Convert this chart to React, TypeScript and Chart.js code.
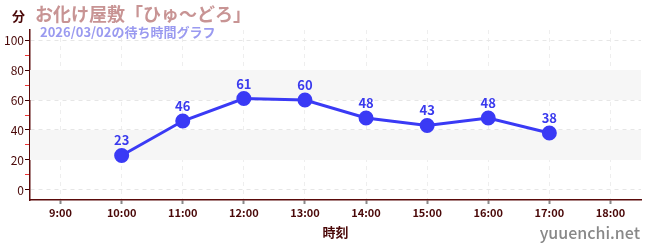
import React, { useEffect, useRef } from "react";
import { Chart, registerables } from "chart.js";

Chart.register(...registerables);

const hours = [10, 11, 12, 13, 14, 15, 16, 17];
const waits = [23, 46, 61, 60, 48, 43, 48, 38];
const xTickHours = [9, 10, 11, 12, 13, 14, 15, 16, 17, 18];
const yTicks = [0, 10, 20, 30, 40, 50, 60, 70, 80, 90, 100];
const bands = [
  [20, 40],
  [60, 80],
];
const titleText = "お化け屋敷「ひゅ〜どろ」";
const subtitleText = "2026/03/02の待ち時間グラフ";
const yTitle = "分";
const xTitle = "時刻";
const watermark = "yuuenchi.net";

const FONT = '"Noto Sans CJK JP", "Noto Sans", sans-serif';

export default function App() {
  const ref = useRef<HTMLCanvasElement>(null);
  useEffect(() => {
    document.body.style.margin = "0";
    const canvas = ref.current!;
    const decor = {
      id: "decor",
      beforeDatasetsDraw(chart: any) {
        const { ctx, chartArea, scales } = chart;
        ctx.save();
        ctx.fillStyle = "#f6f6f6";
        for (const [a, b] of bands) {
          const y1 = scales.y.getPixelForValue(b);
          const y2 = scales.y.getPixelForValue(a);
          ctx.fillRect(chartArea.left, y1, chartArea.right - chartArea.left, y2 - y1);
        }
        ctx.restore();
      },
      afterDraw(chart: any) {
        const { ctx } = chart;
        const meta = chart.getDatasetMeta(0);
        ctx.save();
        ctx.textAlign = "center";
        ctx.textBaseline = "alphabetic";
        ctx.fillStyle = "#3a3aee";
        ctx.font = `bold 13px ${FONT}`;
        meta.data.forEach((pt: any, i: number) => {
          ctx.fillText(String(waits[i]), pt.x, pt.y - 10);
        });
        ctx.textAlign = "left";
        ctx.textBaseline = "middle";
        ctx.fillStyle = "#c89494";
        ctx.font = `bold 18px ${FONT}`;
        ctx.fillText(titleText, 35, 14);
        ctx.fillStyle = "#9a9af0";
        ctx.font = `bold 13px ${FONT}`;
        ctx.fillText(subtitleText, 40, 32);
        ctx.fillStyle = "#4a0808";
        ctx.font = `bold 13px ${FONT}`;
        ctx.fillText(yTitle, 12, 16);
        ctx.textAlign = "right";
        ctx.fillStyle = "#888888";
        ctx.font = `500 16px ${FONT}`;
        ctx.fillText(watermark, 640, 233);
        ctx.restore();
      },
    };
    const chart = new Chart(canvas, {
      type: "line",
      data: {
        datasets: [
          {
            data: hours.map((h, i) => ({ x: h, y: waits[i] })),
            borderColor: "#3a3af5",
            backgroundColor: "#3a3af5",
            borderWidth: 3,
            pointRadius: 6,
            pointHoverRadius: 6,
            tension: 0,
          },
        ],
      },
      options: {
        animation: false,
        responsive: false,
        maintainAspectRatio: false,
        layout: { padding: { top: 30, right: 9, left: 0, bottom: 0 } },
        plugins: { legend: { display: false }, tooltip: { enabled: false } },
        scales: {
          x: {
            type: "linear",
            min: 8.5,
            max: 18.5,
            afterBuildTicks: (s: any) => {
              s.ticks = xTickHours.map((v) => ({ value: v }));
            },
            afterFit: (s: any) => {
              s.height = 50;
            },
            ticks: {
              callback: (v: any) => `${v}:00`,
              color: "#4a0808",
              font: { family: FONT, size: 11, weight: "bold" },
              padding: 2,
              maxRotation: 0,
              autoSkip: false,
            },
            grid: {
              color: "#eeeeee",
              tickColor: "#888888",
              tickBorderDash: [],
              tickLength: 4,
              tickWidth: 2,
            } as any,
            border: { color: "#5a0a0a", width: 1.5, dash: [4, 4] } as any,
            title: {
              display: true,
              text: xTitle,
              color: "#4a0808",
              font: { family: FONT, size: 13, weight: "bold" },
              padding: { top: 4, bottom: 10 },
            },
          },
          y: {
            type: "linear",
            min: -6.67,
            max: 106.67,
            afterBuildTicks: (s: any) => {
              s.ticks = yTicks.map((v) => ({ value: v }));
            },
            afterFit: (s: any) => {
              s.width = 30;
            },
            ticks: {
              callback: (v: any) => (v % 20 === 0 ? String(v) : ""),
              color: "#4a0808",
              font: { family: FONT, size: 12 },
              padding: 1,
              autoSkip: false,
            },
            grid: {
              color: (c: any) => (c.tick && c.tick.value % 20 === 0 ? "#e6e6e6" : "rgba(0,0,0,0)"),
              tickColor: (c: any) => (c.tick && c.tick.value % 20 === 0 ? "#3a0000" : "#ee3333"),
              tickBorderDash: [],
              tickLength: 5,
              tickWidth: 1,
            } as any,
            border: { color: "#5a0a0a", width: 1.5, dash: [4, 4] } as any,
          },
        },
      } as any,
      plugins: [decor],
    });
    return () => chart.destroy();
  }, []);
  return (
    <div style={{ width: 650, height: 250 }}>
      <canvas ref={ref} width={650} height={250} style={{ display: "block" }} />
    </div>
  );
}
